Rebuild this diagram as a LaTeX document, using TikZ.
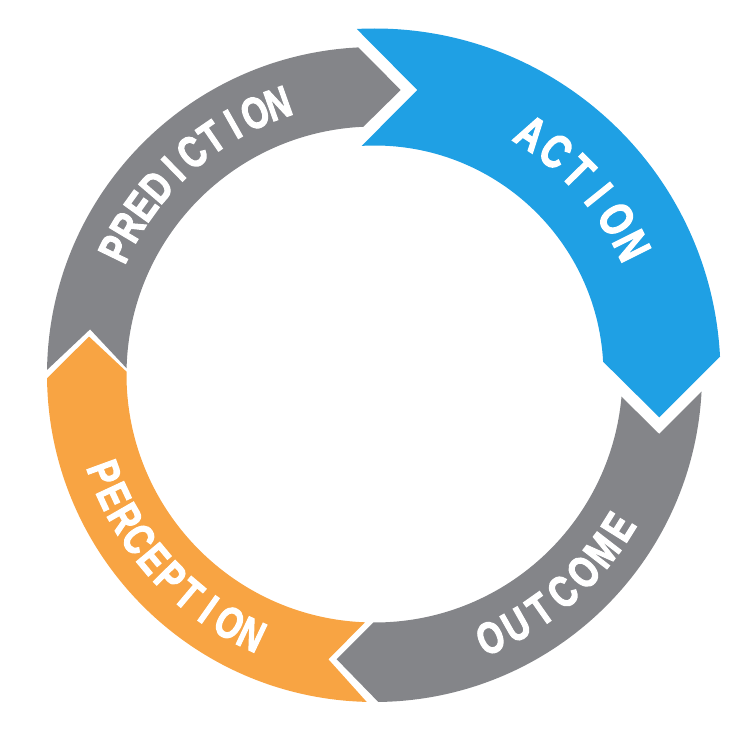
\documentclass[tikz,border=0pt]{standalone}
\usepackage{fontspec}
\newfontfamily\lbl{Liberation Sans}[UprightFont={* Bold}, FakeBold=3]
\definecolor{graycol}{HTML}{848589}
\definecolor{bluecol}{HTML}{1FA0E4}
\definecolor{orangecol}{HTML}{F8A443}
\newcommand\sqz{0.76}
\newlength\chw
% #1 id, #2 letters, #3 start angle, #4 end angle, #5 baseline radius, #6 scale of a 10pt font
\newcommand\arcword[6]{%
  \gdef\wsum{0}\gdef\ncount{0}%
  \foreach \ch in {#2}{\settowidth{\chw}{\lbl\ch}%
    \pgfmathsetmacro\tmpa{\wsum+#6*\sqz*\chw}\xdef\wsum{\tmpa}%
    \pgfmathsetmacro\tmpa{\ncount+1}\xdef\ncount{\tmpa}}%
  \pgfmathsetmacro\dirv{(#4>#3) ? 1 : -1}%
  \pgfmathsetmacro\spc{(abs(#4-#3)*pi/180*#5 - \wsum)/(\ncount-1)}%
  \gdef\accum{0}%
  \foreach \ch [count=\i] in {#2}{%
    \settowidth{\chw}{\lbl\ch}%
    \pgfmathsetmacro\cang{#3 + \dirv*(\accum + 0.5*#6*\sqz*\chw)/#5*180/pi}%
    \pgfmathsetmacro\rot{\cang + 90*\dirv}%
    \pgfmathsetmacro\xs{#6*\sqz}%
    \node[lettr, rotate=\rot, xscale=\xs, yscale=#6] (#1-\i) at (\cang:#5) {\ch};%
    \pgfmathsetmacro\tmpa{\accum + #6*\sqz*\chw + \spc}\xdef\accum{\tmpa}%
  }%
}
\tikzset{
  seggray/.style={fill=graycol},
  segblue/.style={fill=bluecol},
  segorange/.style={fill=orangecol},
  lettr/.style={text=white, font=\fontsize{10}{10}\lbl, anchor=base, inner sep=0pt, outer sep=0pt}
}
\begin{document}
\begin{tikzpicture}[x=1pt,y=1pt]
\useasboundingbox (-374.5,-375.5) rectangle (375.5,374.5);
% PREDICTION
\fill[seggray] (179.2:327.5) arc[start angle=179.2, end angle=92.83, radius=327.5]
  -- (84.74:285.7) -- (92.58:248) arc[start angle=92.58, end angle=178.57, radius=248]
  -- (170.97:288) -- cycle;
% ACTION
\fill[segblue] (92.94:346) arc[start angle=92.94, end angle=2.95, radius=346]
  -- (-8.55:288) -- (3.2:229) arc[start angle=3.2, end angle=93.2, radius=229]
  -- (81.44:287.7) -- cycle;
% OUTCOME
\fill[seggray] (-3.0:327.5) arc[start angle=-3.0, end angle=-89.33, radius=327.5]
  -- (-97.56:287.3) -- (-90.28:248) arc[start angle=-90.28, end angle=-5.13, radius=248]
  -- (-11.8:290.9) -- cycle;
% PERCEPTION
\fill[segorange] (-91.37:327.5) arc[start angle=-91.37, end angle=-179.34, radius=327.5]
  -- (-187.57:288) -- (-180.65:248) arc[start angle=-180.65, end angle=-92.19, radius=248]
  -- (-99.2:288.5) -- cycle;
% labels
\arcword{pred}{P,R,E,D,I,C,T,I,O,N}{154.1}{109.6}{272.5}{4.4}
\arcword{act}{A,C,T,I,O,N}{57}{26.6}{271.5}{4.7}
\arcword{outc}{O,U,T,C,O,M,E}{-66.2}{-32}{302.75}{4.4}
\arcword{perc}{P,E,R,C,E,P,T,I,O,N}{200}{244.7}{302.75}{4.4}
\end{tikzpicture}
\end{document}
